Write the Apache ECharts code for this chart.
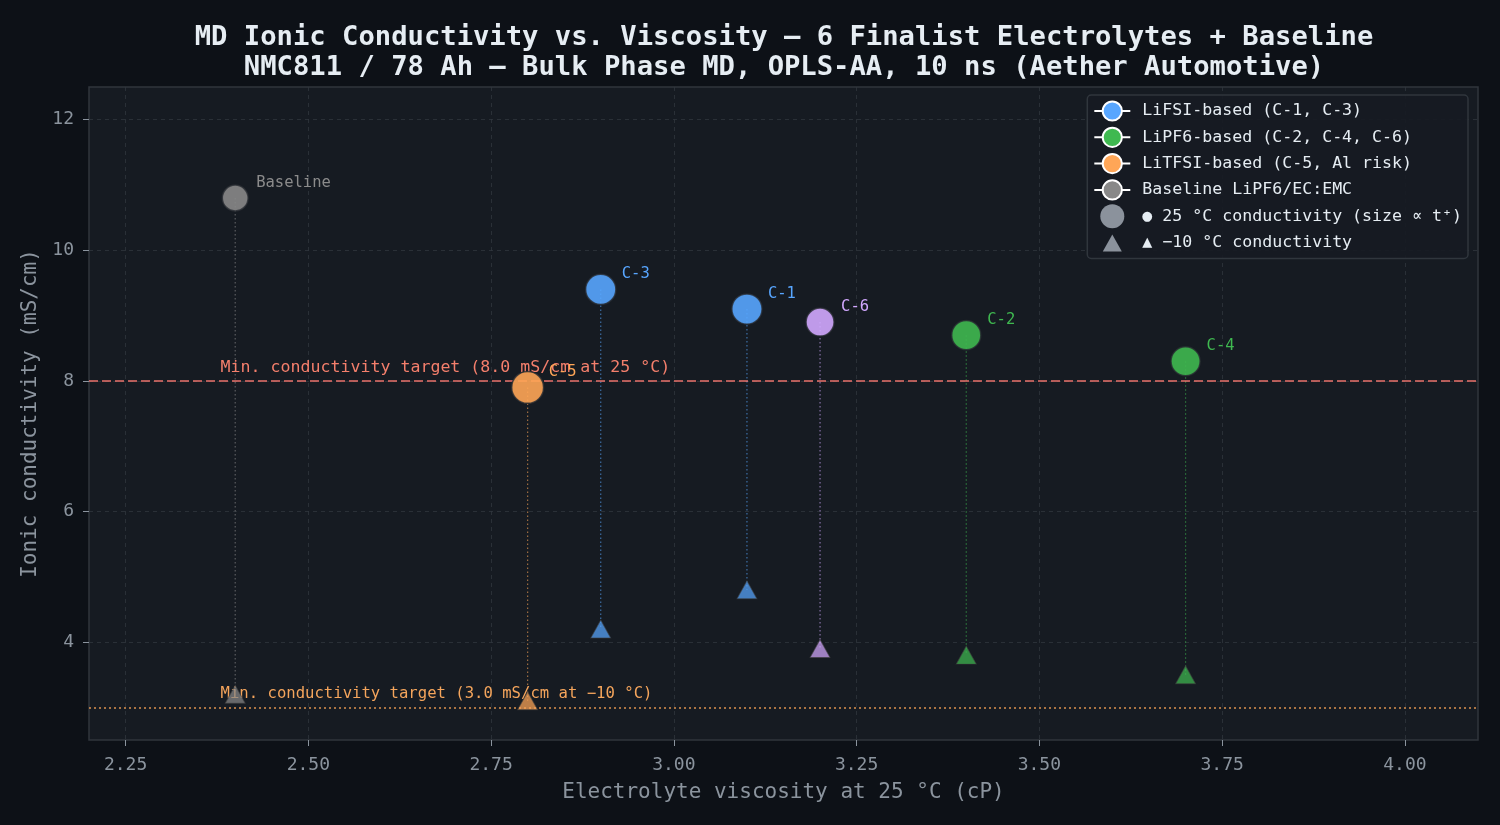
<!DOCTYPE html>
<html>
<head>
<meta charset="utf-8">
<script src="https://cdn.jsdelivr.net/npm/echarts@6/dist/echarts.min.js"></script>
<style>
  html, body { margin: 0; background: #0d1117; }
  #chart { width: 1500px; height: 825px; }
</style>
</head>
<body>
<div id="chart"></div>
<script>
// ---- data ----
const names = ['Baseline', 'C-5', 'C-3', 'C-1', 'C-6', 'C-2', 'C-4'];
const viscosity = [2.4, 2.8, 2.9, 3.1, 3.2, 3.4, 3.7];        // cP at 25 °C
const cond25 = [10.8, 7.9, 9.4, 9.1, 8.9, 8.7, 8.3];           // mS/cm at 25 °C
const condM10 = [3.2, 3.1, 4.2, 4.8, 3.9, 3.8, 3.5];           // mS/cm at -10 °C
const tPlus = [0.47, 0.58, 0.55, 0.55, 0.51, 0.53, 0.53];      // transference number (marker size)
const xTicks = [2.25, 2.5, 2.75, 3.0, 3.25, 3.5, 3.75, 4.0];
const yTicks = [4, 6, 8, 10, 12];
const targetValues = [8.0, 3.0];
const targetLabelX = [2.38, 2.38];
const targetLabels = [
  'Min. conductivity target (8.0 mS/cm at 25 °C)',
  'Min. conductivity target (3.0 mS/cm at −10 °C)',
];
const legendGroups = [
  'LiFSI-based (C-1, C-3)',
  'LiPF6-based (C-2, C-4, C-6)',
  'LiTFSI-based (C-5, Al risk)',
  'Baseline LiPF6/EC:EMC',
];
const circleName = '● 25 °C conductivity (size ∝ t⁺)';
const triangleName = '▲ −10 °C conductivity';

// ---- styles ----
const FONT = 'DejaVu Sans Mono';
const BLUE = '88,166,255', GREEN = '63,185,80', ORANGE = '255,166,87', GRAY = '136,136,136', PURPLE = '210,168,255';
const pointColor = { 'Baseline': GRAY, 'C-5': ORANGE, 'C-3': BLUE, 'C-1': BLUE, 'C-6': PURPLE, 'C-2': GREEN, 'C-4': GREEN };
const groupColor = [BLUE, GREEN, ORANGE, GRAY];
const rgba = (c, a) => `rgba(${c},${a})`;
const sizeOf = t => 55 * t;
// small triangle inside a 24x24 box so the legend keeps it at matplotlib size
const LEGEND_TRIANGLE = 'path://M0,0L0,0M24,24L24,24M2.5,21L12,4L21.5,21Z';

const chart = echarts.init(document.getElementById('chart'));

const circles = viscosity.map((x, i) => ({
  value: [x, cond25[i]],
  name: names[i],
  symbolSize: sizeOf(tPlus[i]),
  itemStyle: { color: rgba(pointColor[names[i]], 0.9) },
  label: { color: names[i] === 'Baseline' ? '#8b8b8b' : rgba(pointColor[names[i]], 1) },
}));

const triangles = viscosity.map((x, i) => ({
  value: [x, condM10[i]],
  itemStyle: { color: rgba(pointColor[names[i]], 0.72) },
}));

const connectors = viscosity.map((x, i) => [x, cond25[i], condM10[i], i]);

const legendDummies = legendGroups.map((g, i) => ({
  name: g,
  type: 'line',
  data: [],
  symbol: 'circle',
  lineStyle: { color: '#ffffff', width: 3 },
  itemStyle: { color: rgba(groupColor[i], 1), borderColor: '#ffffff', borderWidth: 2 },
}));

chart.setOption({
  backgroundColor: '#0d1117',
  animation: false,
  title: {
    text: 'MD Ionic Conductivity vs. Viscosity — 6 Finalist Electrolytes + Baseline\nNMC811 / 78 Ah — Bulk Phase MD, OPLS-AA, 10 ns (Aether Automotive)',
    left: 779,
    top: 18,
    textAlign: 'center',
    textStyle: { color: '#e6edf3', fontFamily: FONT, fontSize: 27.2, fontWeight: 'bold', lineHeight: 30 },
  },
  grid: {
    left: 89, right: 22, top: 87, bottom: 85,
    show: true,
    backgroundColor: '#161b22',
    borderColor: '#30363d',
    borderWidth: 1.5,
  },
  legend: {
    orient: 'vertical',
    right: 32,
    top: 95,
    align: 'left',
    selectedMode: false,
    itemWidth: 36,
    itemHeight: 24,
    itemGap: 2.3,
    padding: [4, 6, 4, 6],
    backgroundColor: 'rgba(22,27,34,0.9)',
    borderColor: '#30363d',
    borderWidth: 1.5,
    borderRadius: 4,
    textStyle: { color: '#e6edf3', fontFamily: FONT, fontSize: 16.6, lineHeight: 24, padding: [0, 0, 0, 7] },
    data: [
      ...legendGroups,
      { name: circleName, icon: 'circle', itemStyle: { color: '#8b929c', borderWidth: 0 } },
      { name: triangleName, icon: LEGEND_TRIANGLE, itemStyle: { color: '#8b929c', borderWidth: 0 } },
    ],
  },
  xAxis: {
    type: 'value',
    min: 2.2,
    max: 4.1,
    name: 'Electrolyte viscosity at 25 °C (cP)',
    nameLocation: 'middle',
    nameGap: 42,
    nameTextStyle: { color: '#8b949e', fontFamily: FONT, fontSize: 21 },
    axisLine: { show: false },
    axisTick: { show: true, customValues: xTicks, length: 6, lineStyle: { color: '#8b949e', width: 1 } },
    axisLabel: {
      customValues: xTicks,
      color: '#8b949e', fontFamily: FONT, fontSize: 18, margin: 16,
      formatter: v => v.toFixed(2),
    },
    splitLine: { show: true, lineStyle: { color: 'rgba(48,54,61,0.8)', type: [4, 4], width: 1 } },
  },
  yAxis: {
    type: 'value',
    min: 2.5,
    max: 12.5,
    name: 'Ionic conductivity (mS/cm)',
    nameLocation: 'middle',
    nameGap: 48,
    nameTextStyle: { color: '#8b949e', fontFamily: FONT, fontSize: 21 },
    axisLine: { show: false },
    axisTick: { show: true, customValues: yTicks, length: 6, lineStyle: { color: '#8b949e', width: 1 } },
    axisLabel: {
      customValues: yTicks,
      color: '#8b949e', fontFamily: FONT, fontSize: 18, margin: 15,
    },
    splitLine: { show: true, lineStyle: { color: 'rgba(48,54,61,0.8)', type: [4, 4], width: 1 } },
  },
  series: [
    ...legendDummies,
    {
      name: 'targets',
      type: 'line',
      data: [],
      z: 1,
      markLine: {
        silent: true,
        symbol: 'none',
        label: { show: false },
        data: [
          { yAxis: targetValues[0], lineStyle: { color: 'rgba(255,123,114,0.9)', type: [9, 4], width: 1.6, opacity: 1 } },
          { yAxis: targetValues[1], lineStyle: { color: 'rgba(255,166,87,0.85)', type: [2, 3], width: 1.6, opacity: 1 } },
        ],
      },
    },
    {
      name: 'connectors',
      type: 'custom',
      z: 2,
      silent: true,
      data: connectors,
      renderItem: (params, api) => {
        const p1 = api.coord([api.value(0), api.value(1)]);
        const p2 = api.coord([api.value(0), api.value(2)]);
        const c = pointColor[names[api.value(3)]];
        return {
          type: 'line',
          shape: { x1: p1[0], y1: p1[1], x2: p2[0], y2: p2[1] },
          style: { stroke: rgba(c, 0.6), lineWidth: 1.2, lineDash: [1.5, 2.5] },
        };
      },
    },
    {
      name: 'target labels',
      type: 'scatter',
      z: 3,
      silent: true,
      symbolSize: 0,
      itemStyle: { opacity: 1 },
      data: targetValues.map((v, i) => ({
        value: [targetLabelX[i], v],
        label: {
          show: true,
          position: 'inside',
          align: 'left',
          verticalAlign: 'middle',
          offset: [0, -13],
          formatter: targetLabels[i],
          fontFamily: FONT,
          fontSize: i === 0 ? 16.6 : 15.6,
          color: i === 0 ? '#f47f6c' : '#f5a55c',
        },
      })),
    },
    {
      name: triangleName,
      type: 'scatter',
      z: 4,
      symbol: 'triangle',
      symbolSize: [20, 18],
      itemStyle: { borderColor: 'rgba(60,60,60,0.6)', borderWidth: 1, opacity: 1 },
      data: triangles,
    },
    {
      name: circleName,
      type: 'scatter',
      z: 5,
      symbol: 'circle',
      itemStyle: { borderColor: 'rgba(40,44,50,0.8)', borderWidth: 1.5, opacity: 1 },
      label: {
        show: true,
        position: 'inside',
        align: 'left',
        verticalAlign: 'middle',
        offset: [21, -15],
        fontFamily: FONT,
        fontSize: 15.5,
        formatter: p => p.name,
      },
      data: circles,
    },
  ],
});
</script>
</body>
</html>
